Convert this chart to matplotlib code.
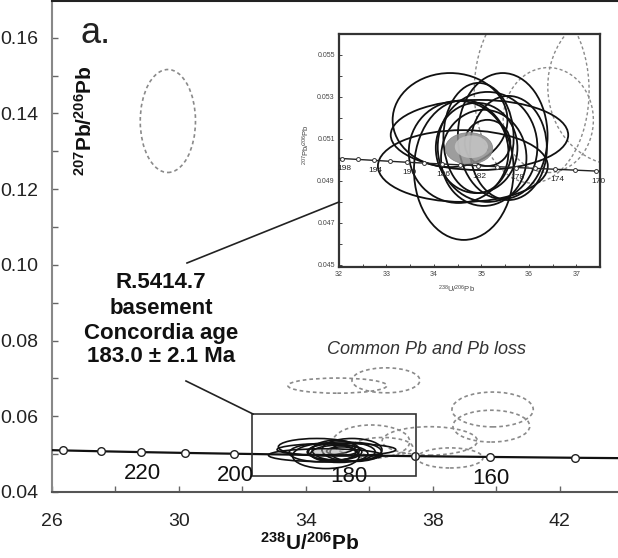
import matplotlib
matplotlib.use('Agg')
import matplotlib.pyplot as plt
from matplotlib.patches import Ellipse, Rectangle
from matplotlib.lines import Line2D
from matplotlib.ticker import MultipleLocator, FixedLocator

plt.rcParams['font.family'] = ['Liberation Sans', 'DejaVu Sans']
plt.rcParams['mathtext.fontset'] = 'custom'
plt.rcParams['mathtext.rm'] = 'Liberation Sans'
plt.rcParams['mathtext.bf'] = 'Liberation Sans:bold'
plt.rcParams['mathtext.it'] = 'Liberation Sans:italic'

# ---------------- data ----------------
# concordia curve points (age in Ma, 238U/206Pb, 207Pb/206Pb)
conc_age = [245, 240, 230, 220, 210, 200, 190, 180, 170, 160, 150, 145]
conc_x = [25.81, 26.36, 27.53, 28.80, 30.20, 31.74, 33.43, 35.32, 37.42, 39.79, 42.48, 43.96]
conc_y = [0.05109, 0.05098, 0.05076, 0.05054, 0.05032, 0.05011, 0.04989,
          0.04968, 0.04947, 0.04926, 0.04904, 0.04894]
main_marker_ages = [240, 230, 220, 210, 200, 170, 160, 150]
main_label_ages = [220, 200, 180, 160]

# inset concordia markers every 2 Ma
ins_age = [198, 196, 194, 192, 190, 188, 186, 184, 182, 180, 178, 176, 174, 172, 170]
ins_x = [32.06, 32.39, 32.73, 33.08, 33.43, 33.79, 34.16, 34.54, 34.92, 35.32,
         35.72, 36.13, 36.55, 36.98, 37.42]
ins_y = [0.050066, 0.050023, 0.049979, 0.049936, 0.049893, 0.049850, 0.049807,
         0.049764, 0.049722, 0.049680, 0.049637, 0.049595, 0.049552, 0.049510, 0.049467]
ins_label_ages = [198, 194, 190, 186, 182, 178, 174, 170]

# concordant analyses (black error ellipses): centre x, centre y, full width, full height
blk_x = [34.34, 34.96, 34.61, 34.63, 34.52, 35.13, 35.05, 34.94, 35.13, 35.57, 35.45, 34.90]
blk_y = [0.05190, 0.05119, 0.04971, 0.04952, 0.05038, 0.05062, 0.05010, 0.05105, 0.05081,
         0.05057, 0.05114, 0.05057]
blk_w = [2.42, 3.74, 3.58, 2.10, 2.10, 2.10, 1.80, 1.48, 0.96, 1.62, 1.89, 1.72]
blk_h = [0.00448, 0.00334, 0.00342, 0.00666, 0.00486, 0.00524, 0.00458, 0.00524, 0.00220,
         0.00496, 0.00600, 0.00430]

# discordant analyses (grey dashed ellipses)
dsh_x = [29.65, 34.99, 36.52, 39.88, 39.84, 36.06, 36.41, 38.54, 37.90]
dsh_y = [0.1380, 0.0681, 0.0695, 0.0618, 0.0574, 0.0533, 0.0519, 0.0490, 0.0535]
dsh_w = [1.74, 3.12, 2.14, 2.56, 2.42, 2.42, 1.90, 2.07, 3.00]
dsh_h = [0.0272, 0.0040, 0.0066, 0.0092, 0.0084, 0.0088, 0.0050, 0.0053, 0.0075]

# concordia age ellipse
cage_x, cage_y, cage_w, cage_h = 34.74, 0.05055, 1.00, 0.00150

# zoom box
box_x0, box_x1, box_y0, box_y1 = 32.30, 37.46, 0.04423, 0.06061

W, H = 618, 558
def fx(px): return px / W
def fy(py): return 1 - py / H

fig = plt.figure(figsize=(W / 100, H / 100), dpi=100)

# ---------------- main axes ----------------
ax = fig.add_axes([fx(52), fy(492), 1 - fx(52), fy(1) - fy(492)])
ax.set_xlim(26, 43.83)
ax.set_ylim(0.04, 0.1697)

def draw_ellipses(a, lw_blk, lw_dsh, grey_alpha):
    for x, y, w, h in zip(dsh_x, dsh_y, dsh_w, dsh_h):
        a.add_patch(Ellipse((x, y), w, h, fill=False, ec='#8a8a8a', lw=lw_dsh,
                            ls=(0, (2.2, 1.8)), zorder=2))
    for x, y, w, h in zip(blk_x, blk_y, blk_w, blk_h):
        a.add_patch(Ellipse((x, y), w, h, fill=False, ec='#111111', lw=lw_blk, zorder=3))
    a.add_patch(Ellipse((cage_x, cage_y), cage_w, cage_h, fc='#8c8c8c', ec='#7a7a7a',
                        lw=0.5, alpha=grey_alpha, zorder=4))
    a.add_patch(Ellipse((cage_x + 0.05, cage_y + 0.00008), cage_w * 0.7, cage_h * 0.72,
                        fc='#c4c4c4', ec='none', alpha=grey_alpha, zorder=4))

draw_ellipses(ax, 1.2, 1.2, 0.35)

ax.plot(conc_x, conc_y, color='#111111', lw=1.6, zorder=5)
mx = [conc_x[conc_age.index(a)] for a in main_marker_ages]
my = [conc_y[conc_age.index(a)] for a in main_marker_ages]
ax.plot(mx, my, 'o', ms=5.5, mfc='white', mec='#222222', mew=1.0, zorder=6, ls='none')
for a in main_label_ages:
    i = conc_age.index(a)
    ax.annotate(str(a), (conc_x[i], conc_y[i]), xytext=(1, -15.5), textcoords='offset points',
                ha='center', va='center', fontsize=16, color='#111111', zorder=7)

ax.add_patch(Rectangle((box_x0, box_y0), box_x1 - box_x0, box_y1 - box_y0, fill=False,
                       ec='#333333', lw=1.2, zorder=6))

ax.xaxis.set_major_locator(FixedLocator([26, 30, 34, 38, 42]))
ax.xaxis.set_minor_locator(MultipleLocator(2))
ax.yaxis.set_major_locator(MultipleLocator(0.02))
ax.yaxis.set_minor_locator(MultipleLocator(0.01))
ax.yaxis.set_major_formatter(matplotlib.ticker.FormatStrFormatter('%.2f'))
ax.tick_params(which='both', direction='in', length=4, width=1, color='#666666',
               labelsize=14, labelcolor='#222222')
ax.tick_params(axis='x', which='both', pad=15)
ax.tick_params(axis='y', which='both', pad=10)
ax.spines['right'].set_visible(False)
ax.spines['left'].set_color('#888888')
ax.spines['left'].set_linewidth(1.5)
ax.spines['bottom'].set_color('#555555')
ax.spines['bottom'].set_linewidth(1.5)
ax.spines['top'].set_color('#222222')
ax.spines['top'].set_linewidth(1.5)

fig.text(fx(80), fy(43), 'a.', fontsize=26, color='#222222', ha='left', va='baseline')
fig.text(fx(85), fy(121), r'$\mathbf{^{207}Pb/^{206}Pb}$', fontsize=15, rotation=90,
         ha='center', va='center', color='#111111')
fig.text(fx(310), fy(543), r'$\mathbf{^{238}U/^{206}Pb}$', fontsize=15,
         ha='center', va='center', color='#111111')

for py, s in zip([282, 308, 333, 357],
                 ['R.5414.7', 'basement', 'Concordia age', '183.0 ± 2.1 Ma']):
    fig.text(fx(161), fy(py), s, fontsize=16, fontweight='bold', ha='center', va='center',
             color='#111111')

fig.text(fx(427), fy(349), 'Common Pb and Pb loss', fontsize=13, style='italic',
         ha='center', va='center', color='#333333')

fig.add_artist(Line2D([fx(187), fx(339)], [fy(263), fy(202)], color='#222222', lw=1.2))
fig.add_artist(Line2D([fx(186), fx(253)], [fy(381), fy(414)], color='#222222', lw=1.2))

# ---------------- inset ----------------
ia = fig.add_axes([fx(339), fy(267), fx(600) - fx(339), fy(34) - fy(267)])
ia.set_xlim(32, 37.5)
ia.set_ylim(0.0449, 0.0560)
ia.set_facecolor('white')
draw_ellipses(ia, 1.3, 1.0, 0.85)
ia.plot(conc_x, conc_y, color='#222222', lw=1.0, zorder=5)
ia.plot(ins_x, ins_y, 'o', ms=2.8, mfc='white', mec='#333333', mew=0.7, zorder=6, ls='none')
for a in ins_label_ages:
    i = ins_age.index(a)
    ia.annotate(str(a), (ins_x[i], ins_y[i]), xytext=(1.5, -7.5), textcoords='offset points',
                ha='center', va='center', fontsize=6, color='#222222', zorder=7)
ia.xaxis.set_major_locator(MultipleLocator(1))
ia.xaxis.set_minor_locator(MultipleLocator(0.5))
ia.yaxis.set_major_locator(FixedLocator([0.045, 0.047, 0.049, 0.051, 0.053, 0.055]))
ia.yaxis.set_minor_locator(MultipleLocator(0.001))
ia.yaxis.set_major_formatter(matplotlib.ticker.FormatStrFormatter('%.3f'))
ia.tick_params(which='both', direction='in', length=2.5, width=0.7, color='#444444',
               labelsize=5, labelcolor='#444444', pad=3)
for s in ia.spines.values():
    s.set_color('#333333')
    s.set_linewidth(1.6)
fig.text(fx(306), fy(145), r'$^{207}$Pb/$^{206}$Pb', fontsize=5.5, rotation=90,
         ha='center', va='center', color='#444444')
fig.text(fx(456), fy(289), r'$^{238}$U/$^{206}$Pb', fontsize=5.5,
         ha='center', va='center', color='#444444')

fig.savefig('out.png', dpi=100)
